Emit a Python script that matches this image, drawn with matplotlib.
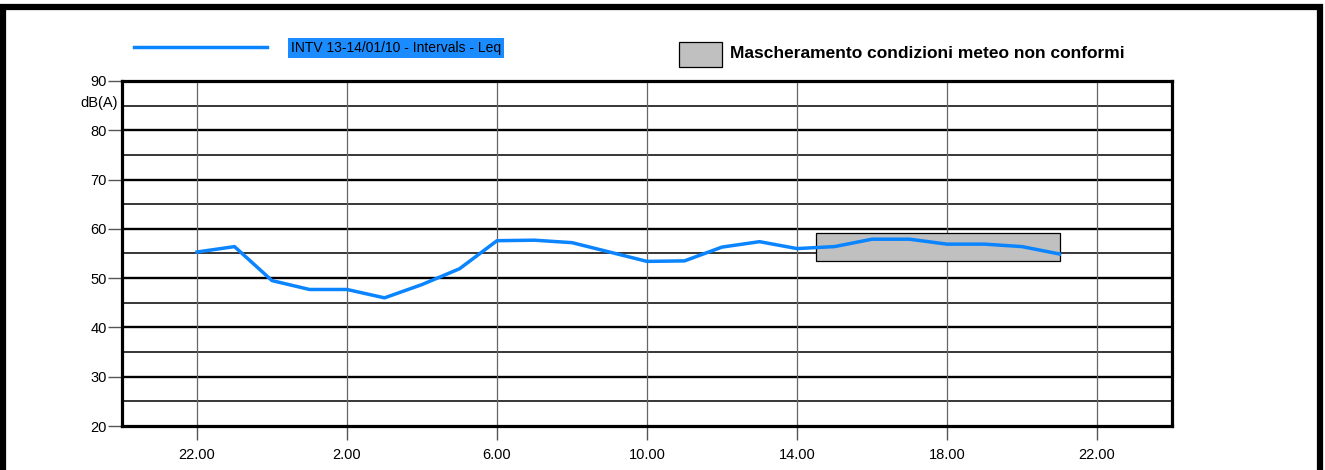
import numpy as np
import matplotlib
matplotlib.use("Agg")
import matplotlib.pyplot as plt
from matplotlib.patches import Rectangle
from matplotlib.lines import Line2D

plt.rcParams["font.family"] = ["Liberation Sans", "DejaVu Sans"]

# hours counted from 00:00 of the first day (24 = midnight of the second day)
hours = [22, 23, 24, 25, 26, 27, 28, 29, 30, 31, 32, 33,
         34, 35, 36, 37, 38, 39, 40, 41, 42, 43, 44, 45]
leq = [55.3, 56.4, 49.5, 47.7, 47.7, 46.0, 48.7, 51.9, 57.6, 57.7, 57.2, 55.3,
       53.4, 53.5, 56.3, 57.4, 56.0, 56.4, 57.9, 57.9, 56.9, 56.9, 56.4, 54.9]

tick_hours = [22, 26, 30, 34, 38, 42, 46]
tick_labels = ["22.00", "2.00", "6.00", "10.00", "14.00", "18.00", "22.00"]

# masked period (weather conditions not compliant)
mask_start, mask_end = 38.5, 45.0
mask_low, mask_high = 53.5, 59.2

series_label = "INTV 13-14/01/10 - Intervals - Leq"
mask_label = "Mascheramento condizioni meteo non conformi"

W, H = 1325, 470
fig = plt.figure(figsize=(W / 100, H / 100), dpi=100)
ax = fig.add_axes([122 / W, 1 - 426 / H, (1172 - 122) / W, (426 - 81) / H])

ax.set_xlim(20, 48)
ax.set_ylim(20, 90)

# grid
for y in range(25, 90, 5):
    lw = 1.7 if y % 10 == 0 else 1.1
    ax.axhline(y, color="black", lw=lw, zorder=1)
for x in tick_hours:
    ax.axvline(x, color="#666666", lw=0.9, zorder=1)

ax.add_patch(Rectangle((mask_start, mask_low), mask_end - mask_start,
                       mask_high - mask_low, facecolor="#c0c0c0",
                       edgecolor="black", lw=0.9, zorder=2))

ax.plot(hours, leq, color="#0a84ff", lw=2.5, zorder=3)

for s in ax.spines.values():
    s.set_linewidth(2.3)
    s.set_color("black")
    s.set_zorder(4)

ax.set_yticks(range(20, 91, 10))
ax.set_xticks(tick_hours)
ax.set_xticklabels(tick_labels)
ax.tick_params(axis="both", length=10, width=1.0, color="#555555",
               labelsize=10.5, pad=1)
ax.tick_params(axis="x", pad=6)
ax.text(-0.004, 80 + 5.5, "dB(A)", transform=ax.get_yaxis_transform(),
        ha="right", va="center", fontsize=10.5)

# legend items drawn in figure pixels
fig.add_artist(Line2D([134 / W, 267 / W], [1 - 47 / H, 1 - 47 / H],
                      color="#0a84ff", lw=2.5))
fig.text(291 / W, 1 - 48 / H, series_label, fontsize=10, va="center",
         ha="left", bbox=dict(boxstyle="square,pad=0.2",
                              facecolor="#1a8cff", edgecolor="none"))
fig.add_artist(Rectangle((679 / W, 1 - 67 / H), 43 / W, 25 / H,
                         transform=fig.transFigure, facecolor="#c0c0c0",
                         edgecolor="black", lw=0.9))
fig.text(730 / W, 1 - 53 / H, mask_label, fontsize=12.5, fontweight="bold",
         va="center", ha="left")

# outer frame (bottom edge runs off the image)
fig.add_artist(Rectangle((3 / W, -0.1), (1320 - 3) / W, 1.1 - 7.5 / H,
                         transform=fig.transFigure, facecolor="none",
                         edgecolor="black", lw=4.5))

fig.savefig("out.png", dpi=100)
